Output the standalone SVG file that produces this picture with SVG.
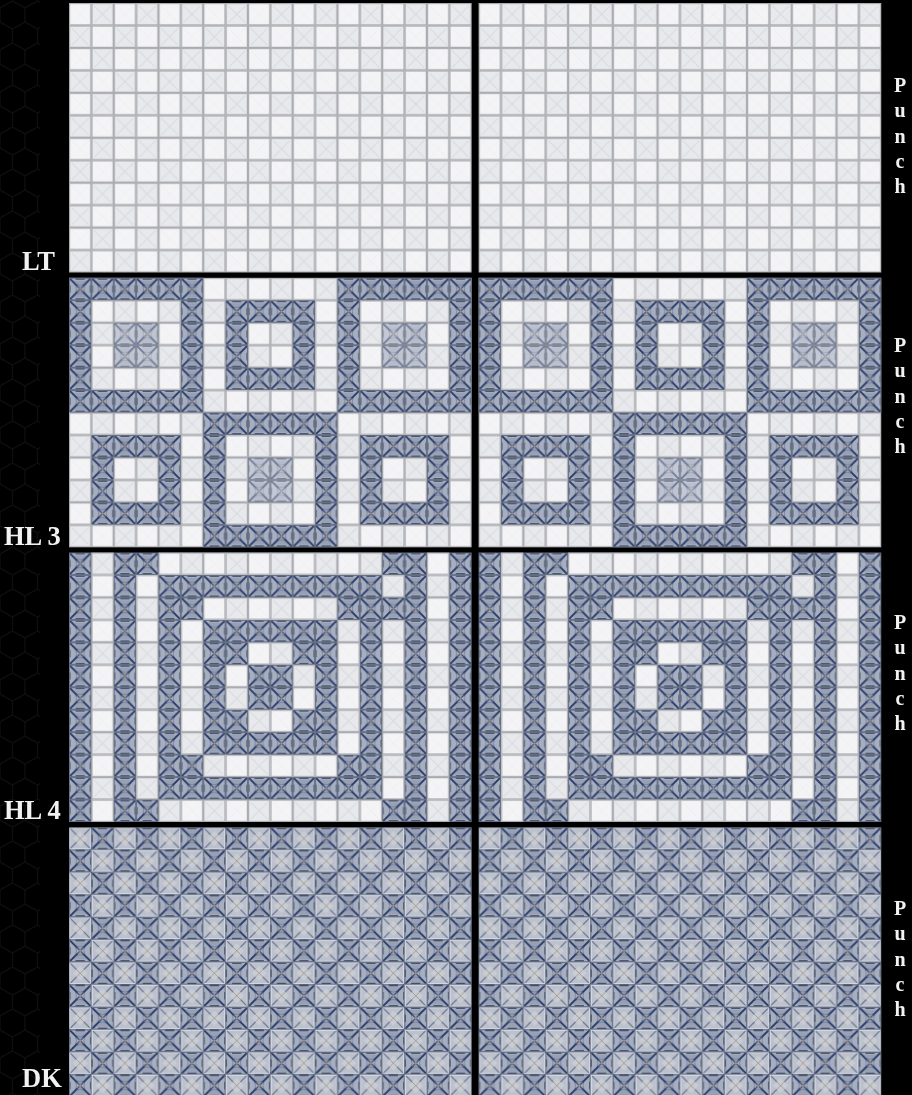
<svg xmlns="http://www.w3.org/2000/svg" width="912" height="1095" viewBox="0 0 912 1095">
<style>
.lab{font-family:"Liberation Serif","Times New Roman",serif;font-weight:700;fill:#f2f2f2}
.big{font-size:26.500px}
.pun{font-size:20px;text-anchor:middle}
</style>
<defs>
<filter id="soft" x="0" y="0" width="1" height="1"><feGaussianBlur stdDeviation="0.5"/></filter>
<filter id="softT" x="-10%" y="-10%" width="120%" height="120%"><feGaussianBlur stdDeviation="0.35"/></filter>
<g id="cw"><rect width="24" height="24" fill="#f4f4f6"/><path d="M3 3L21 21M21 3L3 21" stroke="#ecedf0" stroke-width=".9"/><rect x=".6" y=".6" width="22.800" height="22.800" fill="none" stroke="#aaacb1" stroke-width="1.300"/></g>
<g id="cg"><rect width="24" height="24" fill="#e8e9ec"/><path d="M3 3L21 21M21 3L3 21" stroke="#d9dbdf" stroke-width="1.100"/><rect x=".6" y=".6" width="22.800" height="22.800" fill="none" stroke="#aaacb1" stroke-width="1.300"/></g>
<g id="cd"><rect width="24" height="24" fill="#a7aebd"/><path d="M12 12L5 3H19zM12 12L5 21H19z" fill="#98a0b2"/><path d="M3 4Q12 12 21 4M3 20Q12 12 21 20M4 3Q12 12 4 21M20 3Q12 12 20 21" fill="none" stroke="#6d7a97" stroke-width=".8"/><path d="M0 0L9 9M24 0L15 9M0 24L9 15M24 24L15 15" stroke="#283c6c" stroke-width="2"/><path d="M8 8L16 16M16 8L8 16" stroke="#42547f" stroke-width="1.400"/><path d="M7 .8h10M7 23.200h10" stroke="#25365f" stroke-width="2"/><path d="M.8 8v8M23.200 8v8" stroke="#3c4c74" stroke-width="1.600"/><rect x=".5" y=".5" width="23" height="23" fill="none" stroke="#666f82" stroke-width="1"/><circle cx="12" cy="12" r="1.300" fill="#a98d68"/></g>
<g id="cl"><rect width="24" height="24" fill="#bcc1cc"/><path d="M12 4L20 12L12 20L4 12z" fill="#c8ccd5"/><path d="M0 0L8 8M24 0L16 8M0 24L8 16M24 24L16 16" stroke="#6c7895" stroke-width="1.300"/><path d="M8 8L16 16M16 8L8 16" stroke="#a39682" stroke-width=".9"/><rect x=".9" y=".9" width="22.200" height="22.200" fill="none" stroke="#dfe2e8" stroke-width=".8"/><rect x=".2" y=".2" width="23.600" height="23.600" fill="none" stroke="#7b8496" stroke-width=".6"/></g>
<pattern id="pW" width="2" height="2" patternUnits="userSpaceOnUse" viewBox="0 0 48 48"><use href="#cw"/><use href="#cg" x="24"/><use href="#cg" y="24"/><use href="#cw" x="24" y="24"/></pattern>
<pattern id="pD" width="1" height="1" patternUnits="userSpaceOnUse" viewBox="0 0 24 24"><use href="#cd"/></pattern>
<pattern id="pK" width="2" height="2" patternUnits="userSpaceOnUse" viewBox="0 0 48 48"><use href="#cl"/><use href="#cd" x="24"/><use href="#cd" y="24"/><use href="#cl" x="24" y="24"/></pattern>
<pattern id="pH" width="25" height="42" patternUnits="userSpaceOnUse" y="1"><path d="M12.500 0L25 7V21L12.500 28L0 21V7ZM12.500 28V42" fill="none" stroke="#0f0f0f" stroke-width="1.200"/></pattern>
<g id="lt"><rect width="18" height="12" fill="url(#pW)"/></g>
<g id="hl3"><rect width="18" height="12" fill="url(#pW)"/>
<path fill="url(#pD)" fill-rule="evenodd" d="M0 0h6v6h-6zM1 1h4v4h-4zM7 1h4v4h-4zM8 2h2v2h-2zM12 0h6v6h-6zM13 1h4v4h-4zM1 7h4v4h-4zM2 8h2v2h-2zM6 6h6v6h-6zM7 7h4v4h-4zM13 7h4v4h-4zM14 8h2v2h-2z"/>
<path fill="url(#pD)" opacity=".62" d="M2 2h2v2h-2zM14 2h2v2h-2zM8 8h2v2h-2z"/></g>
<g id="hl4"><rect width="18" height="12" fill="url(#pD)"/>
<path fill="url(#pW)" d="M1 0h1v12h-1zM16 0h1v12h-1zM3 1h1v10h-1zM14 1h1v1h-1zM14 3h1v8h-1zM4 0h10v1h-10zM4 11h10v1h-10zM6 2h6v1h-6zM6 9h6v1h-6zM5 3h1v6h-1zM12 3h1v6h-1zM8 4h2v1h-2zM8 7h2v1h-2zM7 5h1v2h-1zM10 5h1v2h-1z"/></g>
<g id="dk"><rect width="18" height="12" fill="url(#pK)"/></g>
</defs>
<rect width="912" height="1095" fill="#000"/>
<rect width="40" height="1095" fill="url(#pH)"/>
<g id="panels" filter="url(#soft)">
<g id="lt-left"><use href="#lt" transform="translate(69,3) scale(22.37,22.46)"/></g>
<g id="lt-right"><use href="#lt" transform="translate(478.600,3) scale(22.37,22.46)"/></g>
<g id="hl3-left"><use href="#hl3" transform="translate(69,277.800) scale(22.37,22.46)"/></g>
<g id="hl3-right"><use href="#hl3" transform="translate(478.600,277.800) scale(22.37,22.46)"/></g>
<g id="hl4-left"><use href="#hl4" transform="translate(69,552.500) scale(22.37,22.46)"/></g>
<g id="hl4-right"><use href="#hl4" transform="translate(478.600,552.500) scale(22.37,22.46)"/></g>
<g id="dk-left"><use href="#dk" transform="translate(69,827.300) scale(22.37,22.46)"/></g>
<g id="dk-right"><use href="#dk" transform="translate(478.600,827.300) scale(22.37,22.46)"/></g>
</g>
<g id="labels" filter="url(#softT)">
<text class="lab big" x="22" y="270">LT</text>
<text class="lab big" x="4" y="544.500">HL 3</text>
<text class="lab big" x="4" y="819">HL 4</text>
<text class="lab big" x="22" y="1087">DK</text>
<text class="lab pun"><tspan x="900" y="92">P</tspan><tspan x="900" y="117.300">u</tspan><tspan x="900" y="142.600">n</tspan><tspan x="900" y="167.900">c</tspan><tspan x="900" y="193.200">h</tspan></text>
<text class="lab pun"><tspan x="900" y="352">P</tspan><tspan x="900" y="377.300">u</tspan><tspan x="900" y="402.600">n</tspan><tspan x="900" y="427.900">c</tspan><tspan x="900" y="453.200">h</tspan></text>
<text class="lab pun"><tspan x="900" y="629">P</tspan><tspan x="900" y="654.300">u</tspan><tspan x="900" y="679.600">n</tspan><tspan x="900" y="704.900">c</tspan><tspan x="900" y="730.200">h</tspan></text>
<text class="lab pun"><tspan x="900" y="915">P</tspan><tspan x="900" y="940.300">u</tspan><tspan x="900" y="965.600">n</tspan><tspan x="900" y="990.900">c</tspan><tspan x="900" y="1016.200">h</tspan></text>
</g>
</svg>
